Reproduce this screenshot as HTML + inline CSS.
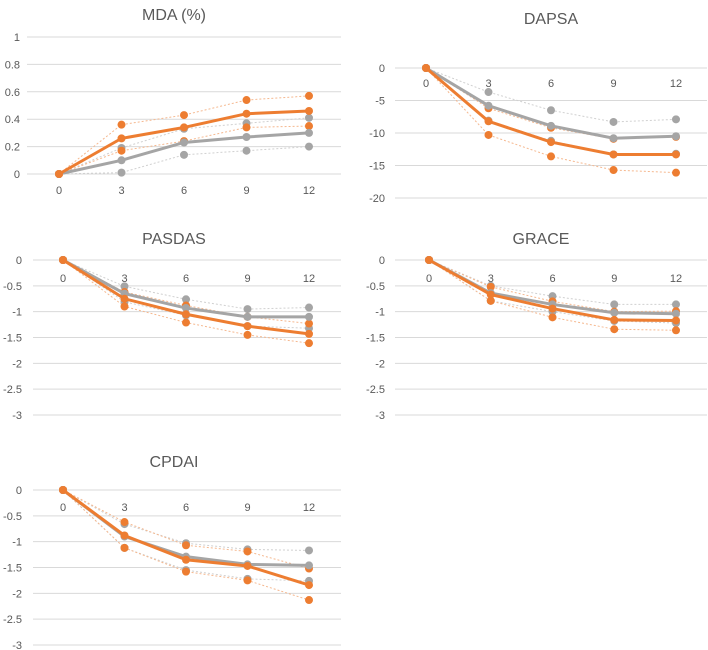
<!DOCTYPE html>
<html><head><meta charset="utf-8"><style>
body{margin:0;background:#fff;}
svg{display:block;font-family:"Liberation Sans",sans-serif;}
</style></head><body>
<svg id="c" width="708" height="650"></svg>
<script>
const months=[0,3,6,9,12];
const mdaTicks=[0,0.2,0.4,0.6,0.8,1];
const mdaOrangeMean=[0,0.26,0.34,0.44,0.46];
const mdaOrangeUp=[0,0.36,0.43,0.54,0.57];
const mdaOrangeLo=[0,0.17,0.24,0.34,0.35];
const mdaGrayMean=[0,0.10,0.23,0.27,0.30];
const mdaGrayUp=[0,0.19,0.33,0.37,0.41];
const mdaGrayLo=[0,0.01,0.14,0.17,0.20];
const dapsaTicks=[0,-5,-10,-15,-20];
const dapsaOrangeMean=[0,-8.2,-11.4,-13.3,-13.3];
const dapsaOrangeUp=[0,-6.2,-9.2,-10.9,-10.6];
const dapsaOrangeLo=[0,-10.3,-13.6,-15.7,-16.1];
const dapsaGrayMean=[0,-5.8,-8.9,-10.8,-10.5];
const dapsaGrayUp=[0,-3.7,-6.5,-8.3,-7.9];
const dapsaGrayLo=[0,-8.1,-11.2,-13.3,-13.2];
const negTicks=[0,-0.5,-1,-1.5,-2,-2.5,-3];
const pasOrangeMean=[0,-0.75,-1.05,-1.28,-1.43];
const pasOrangeUp=[0,-0.62,-0.88,-1.1,-1.23];
const pasOrangeLo=[0,-0.9,-1.21,-1.45,-1.61];
const pasGrayMean=[0,-0.65,-0.93,-1.1,-1.1];
const pasGrayUp=[0,-0.51,-0.76,-0.95,-0.92];
const pasGrayLo=[0,-0.81,-1.07,-1.28,-1.32];
const grOrangeMean=[0,-0.67,-0.94,-1.16,-1.17];
const grOrangeUp=[0,-0.52,-0.8,-1.0,-0.99];
const grOrangeLo=[0,-0.79,-1.11,-1.34,-1.36];
const grGrayMean=[0,-0.64,-0.86,-1.02,-1.04];
const grGrayUp=[0,-0.5,-0.7,-0.86,-0.86];
const grGrayLo=[0,-0.79,-1.0,-1.18,-1.22];
const cpOrangeMean=[0,-0.88,-1.35,-1.47,-1.84];
const cpOrangeUp=[0,-0.62,-1.07,-1.19,-1.52];
const cpOrangeLo=[0,-1.12,-1.58,-1.75,-2.13];
const cpGrayMean=[0,-0.9,-1.29,-1.44,-1.46];
const cpGrayUp=[0,-0.66,-1.03,-1.15,-1.17];
const cpGrayLo=[0,-1.12,-1.55,-1.72,-1.76];

const NS='http://www.w3.org/2000/svg';
const svg=document.getElementById('c');
function mk(t,a,p){const e=document.createElementNS(NS,t);for(const k in a)e.setAttribute(k,a[k]);(p||svg).appendChild(e);return e;}

const panels=[
 {name:'mda',title:'MDA (%)',tx:174,ty:20,gx0:27,gx1:341,x0:59,x12:309,yTop:1,yBot:0,pTop:37,pBot:174,ticks:mdaTicks,labX:20,xLabY:194,
  s:[[mdaGrayUp,mdaGrayLo,mdaGrayMean],[mdaOrangeUp,mdaOrangeLo,mdaOrangeMean]]},
 {name:'dapsa',title:'DAPSA',tx:551,ty:24,gx0:395,gx1:707,x0:426,x12:676,yTop:0,yBot:-20,pTop:68,pBot:198,ticks:dapsaTicks,labX:385,xLabY:87,
  s:[[dapsaGrayUp,dapsaGrayLo,dapsaGrayMean],[dapsaOrangeUp,dapsaOrangeLo,dapsaOrangeMean]]},
 {name:'pasdas',title:'PASDAS',tx:174,ty:244,gx0:33,gx1:341,x0:63,x12:309,yTop:0,yBot:-3,pTop:260,pBot:415,ticks:negTicks,labX:22,xLabY:282,
  s:[[pasGrayUp,pasGrayLo,pasGrayMean],[pasOrangeUp,pasOrangeLo,pasOrangeMean]]},
 {name:'grace',title:'GRACE',tx:541,ty:244,gx0:395,gx1:707,x0:429,x12:676,yTop:0,yBot:-3,pTop:260,pBot:415,ticks:negTicks,labX:385,xLabY:282,
  s:[[grGrayUp,grGrayLo,grGrayMean],[grOrangeUp,grOrangeLo,grOrangeMean]]},
 {name:'cpdai',title:'CPDAI',tx:174,ty:467,gx0:33,gx1:341,x0:63,x12:309,yTop:0,yBot:-3,pTop:490,pBot:645,ticks:negTicks,labX:22,xLabY:511,
  s:[[cpGrayUp,cpGrayLo,cpGrayMean],[cpOrangeUp,cpOrangeLo,cpOrangeMean]]}
];
const cols=['#A5A5A5','#ED7D31'];
const lightCols=['#d0d0d0','#f5b88f'];
panels.forEach(p=>{
  const g=mk('g',{});
  
  
  const X=m=>p.x0+(m-months[0])/(months[months.length-1]-months[0])*(p.x12-p.x0);
  const Y=v=>p.pTop+(p.yTop-v)/(p.yTop-p.yBot)*(p.pBot-p.pTop);
  const t=mk('text',{x:p.tx,y:p.ty,'text-anchor':'middle','font-size':16,fill:'#595959'},g);
  t.textContent=p.title;
  
  
  p.ticks.forEach(v=>{
    const l=mk('line',{x1:p.gx0,x2:p.gx1,y1:Y(v),y2:Y(v),stroke:'#d9d9d9','stroke-width':1},g);
    
    
    const tl=mk('text',{x:p.labX,y:Y(v)+4,'text-anchor':'end','font-size':11,fill:'#595959'},g);
    tl.textContent=String(v);
    
    
  });
  months.forEach(m=>{
    const tl=mk('text',{x:X(m),y:p.xLabY,'text-anchor':'middle','font-size':11,fill:'#595959'},g);
    tl.textContent=String(m);
    
    
  });
  const order=[[0,0],[0,1],[1,0],[1,1],[0,2],[1,2]];
  order.forEach(([gi,si])=>{
    const arr=p.s[gi][si];
    const mean=si===2;
    const pts=arr.map((v,i)=>X(months[i])+','+Y(v)).join(' ');
    const pl=mk('polyline',{points:pts,fill:'none',stroke:mean?cols[gi]:lightCols[gi],'stroke-width':mean?3:1,'stroke-dasharray':mean?'none':'2,2'},g);
    
    
    arr.forEach((v,i)=>{
      const c=mk('circle',{cx:X(months[i]),cy:Y(v),r:4,fill:cols[gi]},g);
      
      
    });
  });
});
</script>
</body></html>
